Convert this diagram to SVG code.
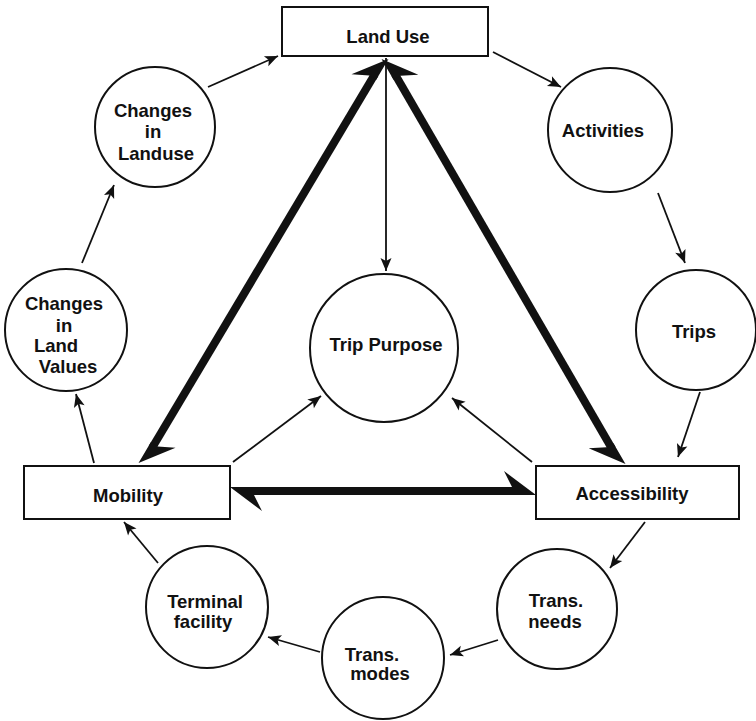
<svg xmlns="http://www.w3.org/2000/svg" width="756" height="721" viewBox="0 0 756 721">
<style>
  .box { fill: #fff; stroke: #111; stroke-width: 2; }
  .node { fill: #fff; stroke: #111; stroke-width: 2; }
  .lbl { font-family: "Liberation Sans", Arial, sans-serif; font-size: 18.5px; font-weight: bold; fill: #111; text-anchor: middle; }
  .thin { fill: none; stroke: #111; stroke-width: 1.8; marker-end: url(#ah); }
  .thick { fill: none; stroke: #111; stroke-width: 8; }
</style>
<defs>
  <marker id="ah" markerUnits="userSpaceOnUse" markerWidth="16" markerHeight="14" viewBox="-15 -7 16 14" refX="0" refY="0" orient="auto">
    <path d="M0,0 L-13,-5.5 L-10,0 L-13,5.5 Z" fill="#111"/>
  </marker>
  <marker id="hl" markerUnits="userSpaceOnUse" markerWidth="60" markerHeight="50" viewBox="-55 -25 60 50" refX="-20" refY="0" orient="auto-start-reverse">
    <path d="M0,4 L-32,-20 L-24,-4 L-24,4 Z" fill="#111"/>
  </marker>
  <marker id="hr" markerUnits="userSpaceOnUse" markerWidth="60" markerHeight="50" viewBox="-55 -25 60 50" refX="-20" refY="0" orient="auto-start-reverse">
    <path d="M0,-4 L-32,20 L-24,4 L-24,-4 Z" fill="#111"/>
  </marker>
</defs>
<rect width="756" height="721" fill="#fff"/>

<g id="connectors">
  <path class="thick" d="M152.2,447.8 L374.8,74.2" marker-start="url(#hl)" marker-end="url(#hl)"/>
  <path class="thick" d="M395,74.3 L612,448.7" marker-start="url(#hr)" marker-end="url(#hr)"/>
  <path class="thick" d="M250,491 L516,491" marker-start="url(#hl)" marker-end="url(#hl)"/>
  <path class="thin" d="M208,87 L278,56"/>
  <path class="thin" d="M493,52 L561,87"/>
  <path class="thin" d="M658,193 L685,263"/>
  <path class="thin" d="M700,392 L678,457"/>
  <path class="thin" d="M645,522 L610,568"/>
  <path class="thin" d="M498,640 L450,655"/>
  <path class="thin" d="M320,652 L268,637"/>
  <path class="thin" d="M158,563 L124,522"/>
  <path class="thin" d="M94,463 L76,394"/>
  <path class="thin" d="M82,263 L114,185"/>
  <path class="thin" d="M386,58 L386,271"/>
  <path class="thin" d="M233,462 L321,396"/>
  <path class="thin" d="M532,462 L452,398"/>
</g>

<g id="land-use">
  <rect class="box" x="282" y="7" width="206" height="49"/>
  <text class="lbl" x="388" y="43">Land Use</text>
</g>
<g id="mobility">
  <rect class="box" x="24" y="466" width="206" height="53"/>
  <text class="lbl" x="128" y="502">Mobility</text>
</g>
<g id="accessibility">
  <rect class="box" x="536" y="466" width="203" height="53"/>
  <text class="lbl" x="632" y="500">Accessibility</text>
</g>
<g id="trip-purpose">
  <circle class="node" cx="384" cy="348" r="74"/>
  <text class="lbl" x="386" y="351">Trip Purpose</text>
</g>
<g id="changes-landuse">
  <circle class="node" cx="155" cy="127" r="60"/>
  <text class="lbl" x="153" y="117">Changes</text>
  <text class="lbl" x="153" y="138">in</text>
  <text class="lbl" x="156" y="160">Landuse</text>
</g>
<g id="changes-land-values">
  <circle class="node" cx="66" cy="330" r="61"/>
  <text class="lbl" x="64" y="310">Changes</text>
  <text class="lbl" x="64" y="332">in</text>
  <text class="lbl" x="56" y="352">Land</text>
  <text class="lbl" x="68" y="373">Values</text>
</g>
<g id="activities">
  <circle class="node" cx="610" cy="130" r="62"/>
  <text class="lbl" x="603" y="137">Activities</text>
</g>
<g id="trips">
  <circle class="node" cx="696" cy="330" r="60"/>
  <text class="lbl" x="694" y="338">Trips</text>
</g>
<g id="trans-needs">
  <circle class="node" cx="557" cy="609" r="60"/>
  <text class="lbl" x="556" y="607">Trans.</text>
  <text class="lbl" x="555" y="628">needs</text>
</g>
<g id="trans-modes">
  <circle class="node" cx="383" cy="658" r="61"/>
  <text class="lbl" x="372" y="661">Trans.</text>
  <text class="lbl" x="380" y="680">modes</text>
</g>
<g id="terminal-facility">
  <circle class="node" cx="207" cy="607" r="61"/>
  <text class="lbl" x="205" y="608">Terminal</text>
  <text class="lbl" x="203" y="628">facility</text>
</g>
</svg>
